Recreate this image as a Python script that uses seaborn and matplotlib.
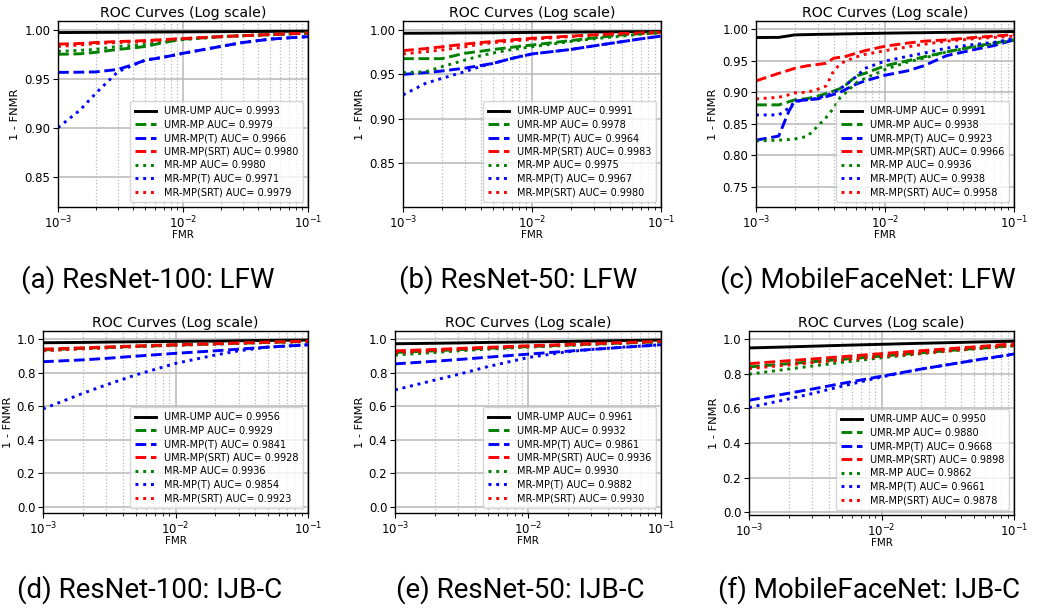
import numpy as np
import pandas as pd
import matplotlib
matplotlib.use("Agg")
import matplotlib.pyplot as plt
from matplotlib.ticker import MultipleLocator
import seaborn as sns

# ---------------- data ----------------
LABELS = ["UMR-UMP", "UMR-MP", "UMR-MP(T)", "UMR-MP(SRT)", "MR-MP", "MR-MP(T)", "MR-MP(SRT)"]
COLORS = ["black", "green", "blue", "red", "green", "blue", "red"]
STYLES = ["-", "--", "--", "--", ":", ":", ":"]

CAPTIONS = ["(a) ResNet-100: LFW", "(b) ResNet-50: LFW", "(c) MobileFaceNet: LFW",
            "(d) ResNet-100: IJB-C", "(e) ResNet-50: IJB-C", "(f) MobileFaceNet: IJB-C"]

AUC_A = [0.9993, 0.9979, 0.9966, 0.9980, 0.9980, 0.9971, 0.9979]
AUC_B = [0.9991, 0.9978, 0.9964, 0.9983, 0.9975, 0.9967, 0.9980]
AUC_C = [0.9991, 0.9938, 0.9923, 0.9966, 0.9936, 0.9938, 0.9958]
AUC_D = [0.9956, 0.9929, 0.9841, 0.9928, 0.9936, 0.9854, 0.9923]
AUC_E = [0.9961, 0.9932, 0.9861, 0.9936, 0.9930, 0.9882, 0.9930]
AUC_F = [0.9950, 0.9880, 0.9668, 0.9898, 0.9862, 0.9661, 0.9878]

FMR_LFW = [1e-3, 1.5e-3, 2e-3, 3e-3, 4e-3, 5e-3, 7e-3, 1e-2, 2e-2, 3e-2, 5e-2, 7e-2, 1e-1]
FMR_C = [1e-3, 1.5e-3, 1.8e-3, 2e-3, 2.5e-3, 3e-3, 3.5e-3, 4e-3, 4.5e-3, 5e-3, 6e-3, 7e-3,
         1e-2, 1.5e-2, 2e-2, 3e-2, 5e-2, 7e-2, 1e-1]
FMR_IJB = [1e-3, 2e-3, 3e-3, 5e-3, 1e-2, 2e-2, 3e-2, 5e-2, 1e-1]

# (a) ResNet-100 LFW
a_umr_ump = [0.9972, 0.9973, 0.9974, 0.9975, 0.9976, 0.9977, 0.9978, 0.9979, 0.9981, 0.9982, 0.9984, 0.9985, 0.9986]
a_umr_mp = [0.9750, 0.9755, 0.9770, 0.9800, 0.9815, 0.9830, 0.9870, 0.9905, 0.9930, 0.9940, 0.9950, 0.9958, 0.9966]
a_umr_mp_t = [0.9565, 0.9567, 0.9570, 0.9595, 0.9645, 0.9690, 0.9720, 0.9760, 0.9830, 0.9870, 0.9905, 0.9918, 0.9930]
a_umr_mp_srt = [0.9854, 0.9860, 0.9870, 0.9880, 0.9885, 0.9890, 0.9900, 0.9910, 0.9930, 0.9940, 0.9952, 0.9960, 0.9966]
a_mr_mp = [0.9780, 0.9790, 0.9800, 0.9830, 0.9840, 0.9850, 0.9875, 0.9900, 0.9928, 0.9940, 0.9950, 0.9958, 0.9966]
a_mr_mp_t = [0.9000, 0.9180, 0.9350, 0.9570, 0.9640, 0.9690, 0.9720, 0.9760, 0.9830, 0.9870, 0.9905, 0.9918, 0.9930]
a_mr_mp_srt = [0.9830, 0.9845, 0.9860, 0.9870, 0.9875, 0.9880, 0.9895, 0.9910, 0.9930, 0.9940, 0.9952, 0.9960, 0.9966]

# (b) ResNet-50 LFW
b_umr_ump = [0.9962, 0.9963, 0.9964, 0.9966, 0.9967, 0.9968, 0.9970, 0.9972, 0.9975, 0.9977, 0.9979, 0.9980, 0.9981]
b_umr_mp = [0.9677, 0.9677, 0.9677, 0.9737, 0.9760, 0.9780, 0.9805, 0.9830, 0.9880, 0.9910, 0.9944, 0.9958, 0.9970]
b_umr_mp_t = [0.9500, 0.9520, 0.9538, 0.9570, 0.9600, 0.9624, 0.9680, 0.9730, 0.9780, 0.9820, 0.9868, 0.9900, 0.9930]
b_umr_mp_srt = [0.9767, 0.9790, 0.9810, 0.9840, 0.9858, 0.9870, 0.9888, 0.9906, 0.9930, 0.9945, 0.9960, 0.9966, 0.9970]
b_mr_mp = [0.9520, 0.9530, 0.9586, 0.9660, 0.9710, 0.9740, 0.9780, 0.9810, 0.9870, 0.9900, 0.9930, 0.9952, 0.9970]
b_mr_mp_t = [0.9270, 0.9400, 0.9455, 0.9530, 0.9590, 0.9624, 0.9680, 0.9730, 0.9780, 0.9820, 0.9868, 0.9900, 0.9930]
b_mr_mp_srt = [0.9730, 0.9755, 0.9774, 0.9810, 0.9840, 0.9857, 0.9875, 0.9895, 0.9925, 0.9940, 0.9955, 0.9963, 0.9970]

# (c) MobileFaceNet LFW
c_umr_ump = [0.9868, 0.9870, 0.9895, 0.9910, 0.9914, 0.9918, 0.9920, 0.9922, 0.9924, 0.9926, 0.9929, 0.9931,
             0.9937, 0.9942, 0.9945, 0.9950, 0.9955, 0.9959, 0.9963]
c_umr_mp = [0.8800, 0.8800, 0.8850, 0.8880, 0.8900, 0.8937, 0.8980, 0.9020, 0.9060, 0.9120, 0.9260, 0.9300,
            0.9420, 0.9500, 0.9560, 0.9640, 0.9730, 0.9780, 0.9830]
c_umr_mp_t = [0.8240, 0.8305, 0.8700, 0.8860, 0.8880, 0.8895, 0.8930, 0.8965, 0.9000, 0.9050, 0.9130, 0.9180,
              0.9270, 0.9340, 0.9420, 0.9580, 0.9680, 0.9740, 0.9830]
c_umr_mp_srt = [0.9180, 0.9300, 0.9350, 0.9380, 0.9420, 0.9440, 0.9460, 0.9540, 0.9555, 0.9570, 0.9620, 0.9660,
                0.9730, 0.9780, 0.9810, 0.9830, 0.9870, 0.9890, 0.9915]
c_mr_mp = [0.8226, 0.8240, 0.8250, 0.8260, 0.8300, 0.8460, 0.8600, 0.8750, 0.8920, 0.9000, 0.9150, 0.9220,
           0.9360, 0.9480, 0.9540, 0.9640, 0.9720, 0.9770, 0.9830]
c_mr_mp_t = [0.8640, 0.8640, 0.8750, 0.8850, 0.8880, 0.8905, 0.8950, 0.8990, 0.9060, 0.9120, 0.9250, 0.9380,
             0.9495, 0.9570, 0.9620, 0.9700, 0.9760, 0.9790, 0.9850]
c_mr_mp_srt = [0.8895, 0.8920, 0.8960, 0.8990, 0.9000, 0.9047, 0.9100, 0.9340, 0.9450, 0.9500, 0.9560, 0.9600,
               0.9660, 0.9720, 0.9760, 0.9810, 0.9850, 0.9870, 0.9890]

# (d) ResNet-100 IJB-C
d_umr_ump = [0.978, 0.980, 0.982, 0.984, 0.986, 0.988, 0.990, 0.992, 0.994]
d_umr_mp = [0.935, 0.945, 0.950, 0.956, 0.964, 0.971, 0.975, 0.980, 0.986]
d_umr_mp_t = [0.865, 0.876, 0.885, 0.898, 0.915, 0.930, 0.940, 0.952, 0.966]
d_umr_mp_srt = [0.940, 0.948, 0.953, 0.959, 0.967, 0.973, 0.977, 0.982, 0.988]
d_mr_mp = [0.932, 0.943, 0.949, 0.956, 0.964, 0.971, 0.975, 0.980, 0.986]
d_mr_mp_t = [0.584, 0.677, 0.727, 0.786, 0.855, 0.905, 0.930, 0.952, 0.966]
d_mr_mp_srt = [0.930, 0.942, 0.948, 0.955, 0.963, 0.970, 0.975, 0.980, 0.986]

# (e) ResNet-50 IJB-C
e_umr_ump = [0.972, 0.975, 0.977, 0.980, 0.983, 0.986, 0.988, 0.991, 0.994]
e_umr_mp = [0.920, 0.930, 0.937, 0.945, 0.955, 0.964, 0.970, 0.976, 0.984]
e_umr_mp_t = [0.852, 0.868, 0.878, 0.892, 0.910, 0.928, 0.938, 0.950, 0.966]
e_umr_mp_srt = [0.930, 0.938, 0.944, 0.951, 0.960, 0.968, 0.973, 0.979, 0.986]
e_mr_mp = [0.905, 0.920, 0.930, 0.940, 0.952, 0.962, 0.968, 0.975, 0.984]
e_mr_mp_t = [0.697, 0.756, 0.790, 0.836, 0.890, 0.925, 0.938, 0.951, 0.966]
e_mr_mp_srt = [0.918, 0.930, 0.938, 0.946, 0.956, 0.965, 0.971, 0.977, 0.985]

# (f) MobileFaceNet IJB-C
f_umr_ump = [0.950, 0.956, 0.960, 0.965, 0.971, 0.977, 0.980, 0.984, 0.989]
f_umr_mp = [0.840, 0.859, 0.870, 0.884, 0.903, 0.922, 0.933, 0.946, 0.964]
f_umr_mp_t = [0.647, 0.688, 0.712, 0.744, 0.786, 0.828, 0.850, 0.878, 0.915]
f_umr_mp_srt = [0.859, 0.876, 0.886, 0.899, 0.917, 0.934, 0.944, 0.956, 0.974]
f_mr_mp = [0.798, 0.828, 0.845, 0.866, 0.893, 0.917, 0.930, 0.944, 0.962]
f_mr_mp_t = [0.605, 0.655, 0.686, 0.728, 0.782, 0.828, 0.850, 0.878, 0.913]
f_mr_mp_srt = [0.830, 0.852, 0.865, 0.880, 0.900, 0.920, 0.932, 0.946, 0.965]

YLIMS = [(0.819, 1.009), (0.801, 1.010), (0.718, 1.013),
         (-0.036, 1.048), (-0.036, 1.048), (-0.017, 1.048)]
YSTEPS = [0.05, 0.05, 0.05, 0.2, 0.2, 0.2]

panels = [
    (FMR_LFW, [a_umr_ump, a_umr_mp, a_umr_mp_t, a_umr_mp_srt, a_mr_mp, a_mr_mp_t, a_mr_mp_srt], AUC_A),
    (FMR_LFW, [b_umr_ump, b_umr_mp, b_umr_mp_t, b_umr_mp_srt, b_mr_mp, b_mr_mp_t, b_mr_mp_srt], AUC_B),
    (FMR_C, [c_umr_ump, c_umr_mp, c_umr_mp_t, c_umr_mp_srt, c_mr_mp, c_mr_mp_t, c_mr_mp_srt], AUC_C),
    (FMR_IJB, [d_umr_ump, d_umr_mp, d_umr_mp_t, d_umr_mp_srt, d_mr_mp, d_mr_mp_t, d_mr_mp_srt], AUC_D),
    (FMR_IJB, [e_umr_ump, e_umr_mp, e_umr_mp_t, e_umr_mp_srt, e_mr_mp, e_mr_mp_t, e_mr_mp_srt], AUC_E),
    (FMR_IJB, [f_umr_ump, f_umr_mp, f_umr_mp_t, f_umr_mp_srt, f_mr_mp, f_mr_mp_t, f_mr_mp_srt], AUC_F),
]

# ---------------- layout ----------------
W, H = 1038, 610
# axes boxes in pixels: left, top, right, bottom
BOXES = [(58, 21, 308, 207), (403, 21, 661, 207), (756, 21, 1014, 207),
         (43, 331, 308, 513), (395, 331, 661, 513), (749, 331, 1014, 515)]
CAP_POS = [(148, 280), (518, 280), (868, 280), (150, 590), (520, 590), (869, 590)]

plt.rcParams['font.family'] = ['DejaVu Sans']
fig = plt.figure(figsize=(W / 100, H / 100), dpi=100)
fig.patch.set_facecolor("white")

for i, (fmr, series, aucs) in enumerate(panels):
    l, t, r, b = BOXES[i]
    ax = fig.add_axes([l / W, 1 - b / H, (r - l) / W, (b - t) / H])
    for lab, col, ls, y, auc in zip(LABELS, COLORS, STYLES, series, aucs):
        df = pd.DataFrame({"FMR": fmr, "TPR": y})
        sns.lineplot(data=df, x="FMR", y="TPR", ax=ax, color=col, linestyle=ls,
                     linewidth=2.1, label=f"{lab} AUC= {auc:.4f}", estimator=None,
                     sort=False)
    ax.set_xscale("log")
    ax.set_xlim(1e-3, 1e-1)
    ax.set_ylim(*YLIMS[i])
    ax.yaxis.set_major_locator(MultipleLocator(YSTEPS[i]))
    ax.grid(True, which="major", color="#b8b8b8", linewidth=1.1)
    ax.grid(True, which="minor", axis="x", color="#b8b8b8", linestyle=":", linewidth=0.9)
    ax.set_axisbelow(True)
    ax.set_title("ROC Curves (Log scale)", fontsize=10.2, pad=3)
    ax.set_xlabel("FMR", fontsize=7.5, labelpad=-1)
    ax.set_ylabel("1 - FNMR", fontsize=8.2, labelpad=3)
    ax.tick_params(axis="both", which="major", labelsize=8.5, pad=2)
    for s in ax.spines.values():
        s.set_color("black")
        s.set_linewidth(1.0)
    ax.legend(loc="lower right", fontsize=7, labelspacing=0.36, handlelength=2.2,
              borderpad=0.5, framealpha=0.8)
    cx, cy = CAP_POS[i]
    fig.text(cx / W, 1 - cy / H, CAPTIONS[i], ha="center", va="center",
             fontsize=20, family=["Roboto", "DejaVu Sans"])

fig.savefig("out.png", dpi=100)
